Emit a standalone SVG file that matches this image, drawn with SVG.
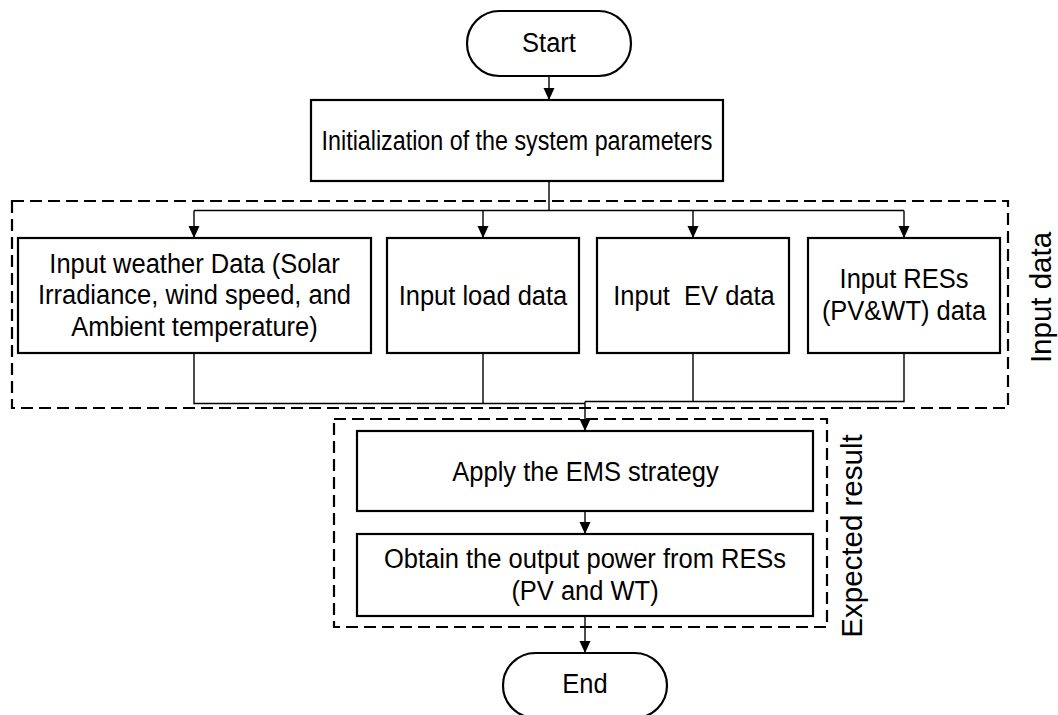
<svg xmlns="http://www.w3.org/2000/svg" width="1058" height="715" viewBox="0 0 1058 715">
  <style>
    .box { fill: #ffffff; stroke: #000000; stroke-width: 2.2; }
    .grp { fill: none; stroke: #000000; stroke-width: 2.2; stroke-dasharray: 12 6; }
    .ln { fill: none; stroke: #000000; stroke-width: 1.4; }
    .t { font-family: "Liberation Sans", Arial, sans-serif; font-size: 25.5px; fill: #000000; text-anchor: middle; }
    .small { font-size: 23.3px; }
    .side { font-size: 29.5px; }
  </style>
  <defs>
    <marker id="arr" viewBox="0 0 12 12" refX="12" refY="6" markerWidth="12" markerHeight="12" markerUnits="userSpaceOnUse" orient="auto">
      <path d="M0,0.5 L12,6 L0,11.5 Z" fill="#000000"/>
    </marker>
  </defs>

  <rect x="0" y="0" width="1058" height="715" fill="#ffffff"/>

  <!-- grouping frames -->
  <g id="frame-input">
    <rect class="grp" x="12" y="201" width="996" height="207"/>
    <text class="t side" transform="translate(1051 297.5) rotate(-90)" x="0" y="0">Input data</text>
  </g>
  <g id="frame-result">
    <rect class="grp" x="334" y="419" width="493" height="208"/>
    <text class="t side" transform="translate(862 536) rotate(-90)" x="0" y="0">Expected result</text>
  </g>

  <!-- connectors -->
  <g id="connectors">
    <line class="ln" x1="549" y1="76" x2="549" y2="100" marker-end="url(#arr)"/>
    <polyline class="ln" points="549,181 549,210.5"/>
    <line class="ln" x1="194" y1="210.5" x2="904" y2="210.5"/>
    <line class="ln" x1="194" y1="210.5" x2="194" y2="238" marker-end="url(#arr)"/>
    <line class="ln" x1="483" y1="210.5" x2="483" y2="238" marker-end="url(#arr)"/>
    <line class="ln" x1="693" y1="210.5" x2="693" y2="238" marker-end="url(#arr)"/>
    <line class="ln" x1="904" y1="210.5" x2="904" y2="238" marker-end="url(#arr)"/>
    <polyline class="ln" points="194,353 194,403.5 585,403.5"/>
    <line class="ln" x1="483" y1="353" x2="483" y2="403.5"/>
    <polyline class="ln" points="904,353 904,401.5 585,401.5"/>
    <line class="ln" x1="693" y1="353" x2="693" y2="401.5"/>
    <line class="ln" x1="585" y1="401.5" x2="585" y2="431" marker-end="url(#arr)"/>
    <line class="ln" x1="585" y1="511" x2="585" y2="534" marker-end="url(#arr)"/>
    <line class="ln" x1="585" y1="616" x2="585" y2="653" marker-end="url(#arr)"/>
  </g>

  <!-- nodes -->
  <g id="start">
    <rect class="box" x="467" y="11" width="164" height="65" rx="32.5"/>
    <g transform="translate(549 52) scale(1 1.05)"><text class="t" x="0" y="0">Start</text></g>
  </g>
  <g id="init">
    <rect class="box" x="311" y="100" width="412" height="81"/>
    <g transform="translate(517 150) scale(1 1.2)"><text class="t small" x="0" y="0">Initialization of the system parameters</text></g>
  </g>
  <g id="weather">
    <rect class="box" x="18" y="238" width="353" height="115"/>
    <g transform="translate(194.5 272.5) scale(1 1.05)"><text class="t" x="0" y="0">Input weather Data (Solar<tspan x="0" dy="30.4">Irradiance, wind speed, and</tspan><tspan x="0" dy="30.4">Ambient temperature)</tspan></text></g>
  </g>
  <g id="load">
    <rect class="box" x="387" y="238" width="192" height="115"/>
    <g transform="translate(483 305) scale(1 1.05)"><text class="t" x="0" y="0">Input load data</text></g>
  </g>
  <g id="ev">
    <rect class="box" x="597" y="238" width="192" height="115"/>
    <g transform="translate(694 305) scale(1 1.05)"><text class="t" x="0" y="0" xml:space="preserve">Input  EV data</text></g>
  </g>
  <g id="res">
    <rect class="box" x="808" y="238" width="192" height="115"/>
    <g transform="translate(904 288) scale(1 1.05)"><text class="t" x="0" y="0">Input RESs<tspan x="0" dy="30.4">(PV&amp;WT) data</tspan></text></g>
  </g>
  <g id="ems">
    <rect class="box" x="357" y="431" width="456" height="80"/>
    <g transform="translate(585.5 480.5) scale(1 1.05)"><text class="t" x="0" y="0">Apply the EMS strategy</text></g>
  </g>
  <g id="output">
    <rect class="box" x="357" y="534" width="456" height="82"/>
    <g transform="translate(585 568) scale(1 1.05)"><text class="t" x="0" y="0">Obtain the output power from RESs<tspan x="0" dy="30.2">(PV and WT)</tspan></text></g>
  </g>
  <g id="end">
    <rect class="box" x="503" y="653" width="164" height="65" rx="32.5"/>
    <g transform="translate(585 693) scale(1 1.05)"><text class="t" x="0" y="0">End</text></g>
  </g>
</svg>
